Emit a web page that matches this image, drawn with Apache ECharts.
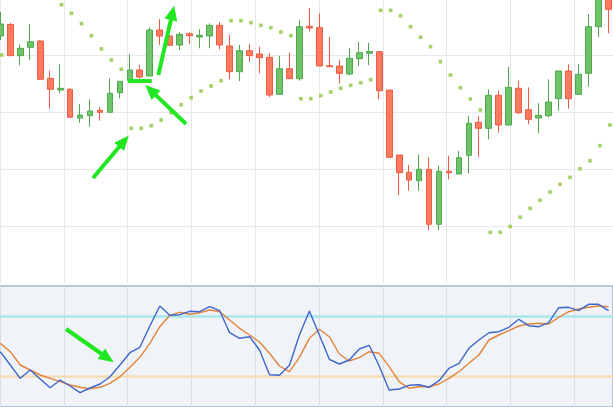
<!DOCTYPE html>
<html>
<head>
<meta charset="utf-8">
<script src="https://cdn.jsdelivr.net/npm/echarts@6/dist/echarts.min.js"></script>
<style>html,body{margin:0;padding:0;background:#fff}#c{width:613px;height:407px}</style>
</head>
<body>
<div id="c"></div>
<script>
// ---- Data ----
// Candle prices (arbitrary point units)
const candleOpen  = [247,258.5,227.3,235.7,242,204.7,193,193.7,165,167.3,172.7,170.7,190.3,202.7,213,207,253,247,238,249.3,246,247,257.7,237,211.3,232.3,229,225.7,188.7,214.3,204.3,256.7,255.3,217.3,217,209,224.3,229.7,231.3,193,128,110.7,102.3,113.7,58.7,111.7,109,127.7,160.7,154.7,187.7,158,194.7,173.3,165,167.3,184.3,212,188.7,209.7,256.3,296];
const candleClose = [259,227.3,234.7,241.3,203.7,193.7,194.7,165.7,168,172,170.7,189.7,201.7,213,206,253,247,237.7,248.7,247.3,247.7,257.7,238,211.3,232.3,227.3,225.3,188,214.3,204.3,256.3,255,217,216.3,209.7,224.7,230.3,231.3,192.3,125.7,110.3,103,113.7,58.7,111.7,110.3,125.3,159.7,154.7,187.7,158,195.7,170.3,163.7,167.7,181,212,184.3,208.7,256.3,292,273.7];
const candleLow   = [243,227,217.7,223,203.7,174.3,189.7,165.7,160.3,156.3,162.3,170.7,184.7,202.7,204.3,207,238,237.7,233,238.7,234.7,234.7,233.7,204,202,221,209.7,185.7,188.7,204.3,202.3,251.3,217,216.3,199.7,207.7,217,217.7,183.7,125.7,88,92.3,92.3,53,53,103.7,109,109.7,125.7,143.7,150.3,158,168.7,158.7,149.7,165.7,172.3,174.3,188.7,196.3,245.7,249.7];
const candleHigh  = [271,260.3,238.7,258.7,243,212.3,218.7,194.7,179,183.7,176,204.7,201.7,228.7,218,255.7,264,248,250.7,250.7,253.7,259.7,260.7,248.3,238,239.3,236.3,229.7,227.3,230.3,263,274.7,269.7,246,223,234.7,241.3,240.3,231.3,193,128,118,128.7,125.7,117.3,127.3,132,167.3,167.3,193.7,192.3,216.3,202.3,195.7,179.7,203.7,212,218.7,218.7,269,300,300];
// Parabolic SAR (null = outside the visible area)
const sar = [228,null,null,null,null,null,278.3,269.7,259.3,247.3,234,223,213.7,154.7,154.7,157.3,163,170.3,178.3,185.3,192,197,202.3,262.3,262.3,260.3,257.7,255.3,251,247.3,184.3,184.3,187.3,191,194.7,197.7,200.3,203.3,272.7,272.7,267.3,256.3,245.7,236.3,221.3,208,195.3,184,173,50.7,50.7,56.5,65.8,74.7,82.7,91,98.7,105.7,114.3,122.3,137.3,158];
// Stochastic oscillator
const stochK = [44.3,31,17.7,26,17,8.3,16,10,3.3,8,12,19.3,31,43.3,48.7,70,90,80.7,81.3,84.7,84.3,89.3,85.3,63.3,57.7,59.3,46,21.3,20.7,30.7,61,85,61,36.7,32,36,47,50.7,30,6,7,10.7,11.3,8.7,15.3,27.7,32.7,47.7,56,63.3,64.3,68.7,76.7,70.3,69.3,73.3,88.3,88.7,85.3,91.7,91.7,85.3];
const stochD = [52.7,44.3,31,26,21,17.7,14.3,11,8.7,7.3,8.7,12.7,19.3,28.7,38.7,52.7,69.3,80.7,83.7,81.7,83.3,86,84.3,76,67.7,61,54,42.7,30,24.3,38.7,57.7,66.7,59.3,42,35,38.3,44.3,42.7,29.3,14.3,7.7,9.3,9.3,12,17.7,24.3,32.7,41,56,61,65.3,70,72,72.7,72,78.7,84.3,87,88.7,90,89.3];
const stochLevels = [80, 20];
// Hand-drawn annotation arrows: [x1, y1, x2, y2] in data units
const priceArrows = [[9.30,105,12.40,141.8],[18.63,159,15.08,192.9],[15.85,208,17.27,270.3]];
const priceUnderline = [12.80,202.5,15.19,202.5];
const stochArrow = [6.59,67,10.75,38];

// ---- Build series data ----
const candles = candleOpen.map((o,i)=>[i,o,candleClose[i],candleLow[i],candleHigh[i]]);
const sarData = sar.map((v,i)=>v==null?null:[i,v]).filter(d=>d);
const kData = stochK.map((v,i)=>[i,v]);
const dData = stochD.map((v,i)=>[i,v]);

const ARROW = '#22e622';
function arrowLine(a){
  return [{coord:[a[0],a[1]],symbol:'none'},{coord:[a[2],a[3]],symbol:'triangle',symbolSize:[13,15]}];
}

const xCommon = {type:'value',min:-0.03,max:61.45,interval:6.4,
  axisLine:{show:false},axisTick:{show:false},axisLabel:{show:false}};

const chart = echarts.init(document.getElementById('c'));
chart.setOption({
  animation:false,
  backgroundColor:'#ffffff',
  grid:[
    {left:0,right:0,top:0,height:283},
    {left:0,right:0,top:286,height:121,show:true,backgroundColor:'#f0f4f9',borderColor:'#a6b5ca',borderWidth:1.5}
  ],
  xAxis:[
    Object.assign({gridIndex:0,splitLine:{show:true,showMaxLine:false,lineStyle:{color:'#e6e8eb',width:1}}},xCommon),
    Object.assign({gridIndex:1,splitLine:{show:true,showMaxLine:false,lineStyle:{color:'#d9dee6',width:1}}},xCommon)
  ],
  yAxis:[
    {type:'value',gridIndex:0,min:0,max:283,interval:57,axisLine:{show:false},axisTick:{show:false},axisLabel:{show:false},
      splitLine:{show:true,showMinLine:false,showMaxLine:false,lineStyle:{color:'#e6e8eb',width:1}}},
    {type:'value',gridIndex:1,min:-11,max:110,axisLine:{show:false},axisTick:{show:false},axisLabel:{show:false},splitLine:{show:false}}
  ],
  series:[
    {type:'candlestick',xAxisIndex:0,yAxisIndex:0,data:candles,barWidth:6.3,z:2,
      itemStyle:{color:'#6fc46a',color0:'#fb7b60',borderColor:'#4fa84b',borderColor0:'#ee5b41',borderWidth:1}},
    {type:'scatter',xAxisIndex:0,yAxisIndex:0,data:sarData,symbol:'rect',symbolSize:3.6,symbolOffset:[1.4,0],z:3,
      itemStyle:{color:'#8cc640'},
      markLine:{silent:true,z:10,label:{show:false},lineStyle:{color:ARROW,width:4,type:'solid'},
        emphasis:{disabled:true},
        data:priceArrows.map(arrowLine).concat([[{coord:[priceUnderline[0],priceUnderline[1]],symbol:'none'},{coord:[priceUnderline[2],priceUnderline[3]],symbol:'none'}]])}},
    {type:'line',xAxisIndex:1,yAxisIndex:1,data:dData,symbol:'none',z:3,
      lineStyle:{color:'#e2843a',width:1.4},
      markLine:{silent:true,z:1,symbol:'none',label:{show:false},
        data:[{yAxis:stochLevels[0],lineStyle:{color:'#a9e6ea',width:2.5,type:'solid'}},
              {yAxis:stochLevels[1],lineStyle:{color:'#f4dcb2',width:2.5,type:'solid'}}]}},
    {type:'line',xAxisIndex:1,yAxisIndex:1,data:kData,symbol:'none',z:4,
      lineStyle:{color:'#3f66cc',width:1.4},
      markLine:{silent:true,z:10,label:{show:false},lineStyle:{color:ARROW,width:4,type:'solid'},
        data:[arrowLine(stochArrow)]}}
  ]
});
</script>
</body>
</html>
